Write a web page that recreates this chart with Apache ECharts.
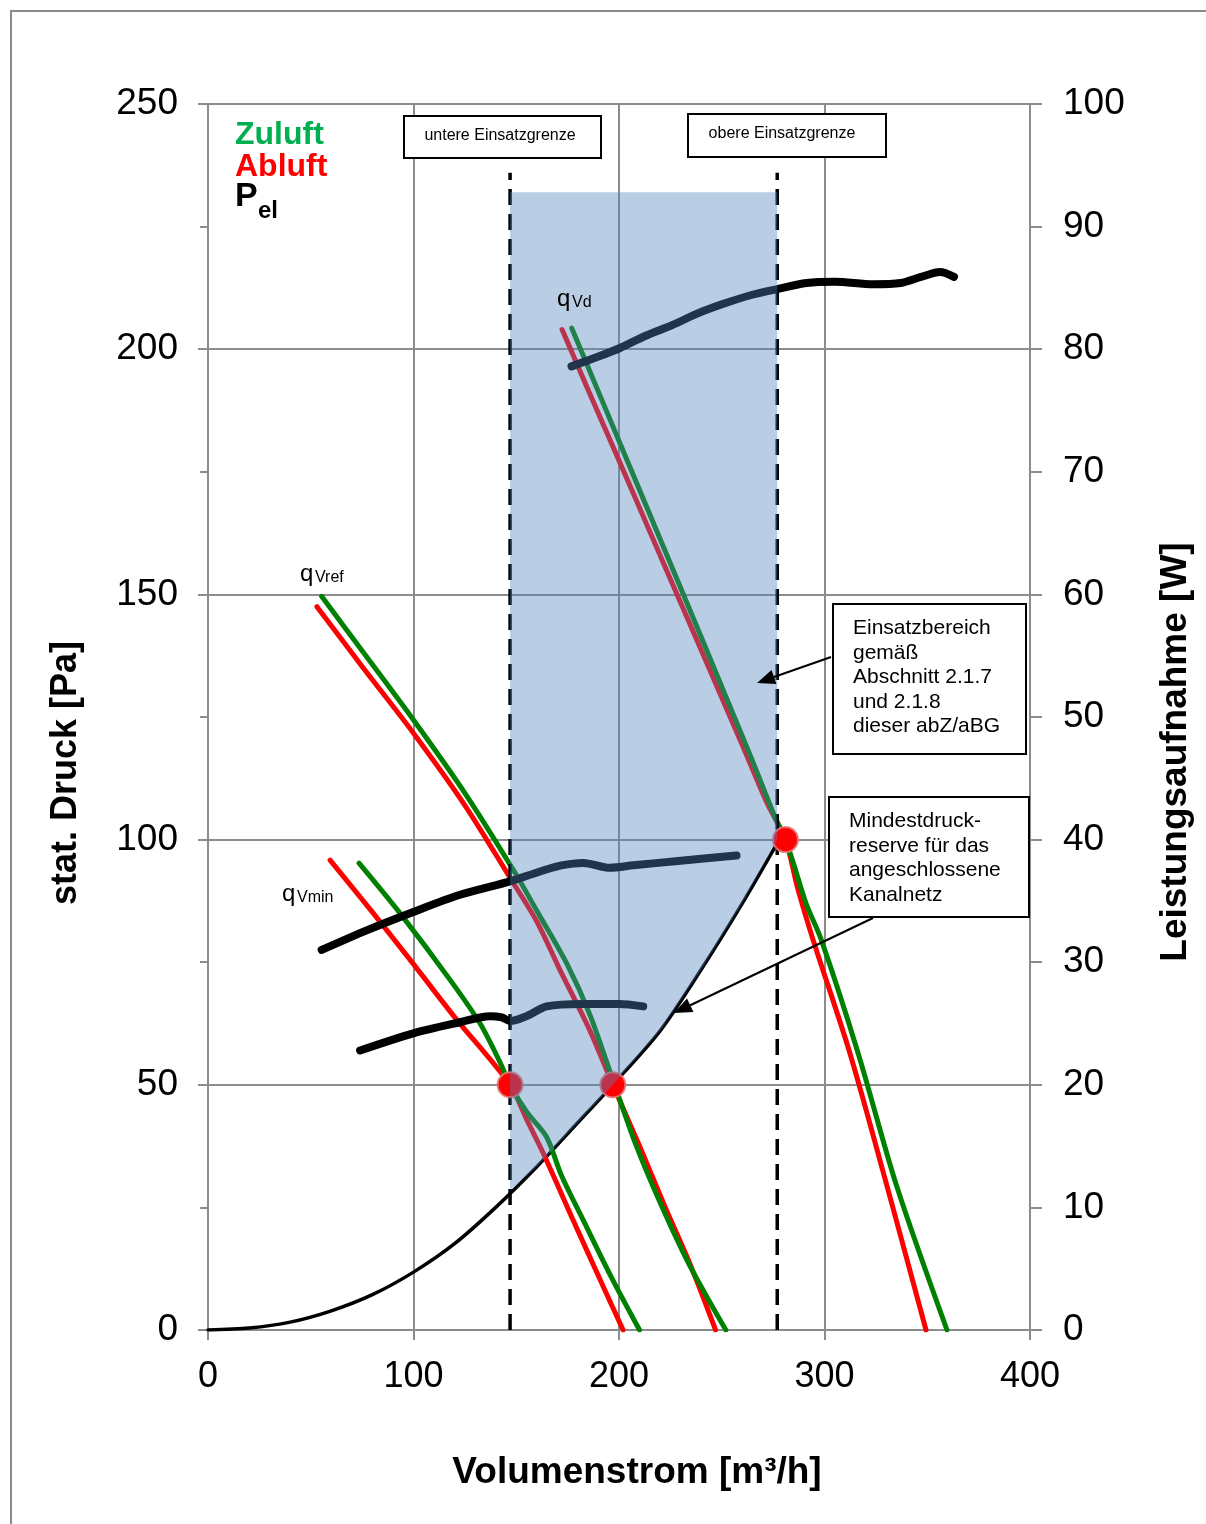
<!DOCTYPE html>
<html>
<head>
<meta charset="utf-8">
<script src="https://cdn.jsdelivr.net/npm/echarts@6/dist/echarts.min.js"></script>
<style>
html,body{margin:0;padding:0;background:#fff;}
#chart{width:1206px;height:1524px;}
</style>
</head>
<body>
<div id="chart"></div>
<script>
// ---------- DATA ----------
// x: Volumenstrom [m³/h], y: stat. Druck [Pa] or Leistungsaufnahme [W]
var xTicks = [0, 100, 200, 300, 400];
var leftTicks = [0, 50, 100, 150, 200, 250];
var rightTicks = [0, 10, 20, 30, 40, 50, 60, 70, 80, 90, 100];

// fan curves (Pa)
var zuluftRef = [[55.3,149.6],[75,138.5],[100,124.4],[125,109.5],[148.6,93.8],[160,85.5],[174.5,74.8],[185.9,64.2],[197,51],[208,38],[220,26],[234,13.5],[252,0]];
var abluftRef = [[53,147.5],[75,135.3],[100,121.7],[125,107],[147,92.2],[160,83.3],[171.3,73.4],[185.9,61],[197,50],[210,37.5],[222,25.5],[235,13],[247,0]];
var zuluftMin = [[73.5,95.2],[93.4,85],[117.8,71.4],[132.4,62.5],[142.1,54.6],[147,50],[155,44.5],[164.7,39.4],[172,31.5],[182.6,22.4],[196,11],[210,0]];
var abluftMin = [[59.4,95.8],[80,85.2],[100,74.6],[120,63.8],[147,50],[155,43],[163.2,36],[177.7,22.4],[190,11],[202,0]];
var zuluftD = [[177,204.3],[190,191.3],[205,176.3],[220,161.3],[235,146.3],[250,131.2],[265,116],[276,104.5],[281,100],[285,95],[291,87],[298.5,79.5],[316.4,56.4],[335,29.5],[359.6,0]];
var abluftD = [[172.3,204],[185,191.7],[200,177.3],[215,162.8],[230,148.3],[245,133.8],[260,119.3],[272,107.5],[281,100],[287,90],[294.5,79.5],[312.4,56.4],[330,30],[349.4,0]];

// power curves P_el (W)
var pelD = [[176.9,78.6],[190,79.4],[200.5,80.1],[213,81.1],[226.4,82.0],[238,82.9],[250.8,83.7],[264,84.4],[277,84.9],[291.3,85.4],[305,85.5],[323.7,85.3],[337,85.4],[347,85.9],[356.2,86.3],[363,85.9]];
var pelRef = [[55.3,31.0],[77.2,32.6],[99.9,34.1],[122.6,35.5],[147,36.6],[161.6,37.4],[172,37.9],[182.6,38.1],[195.6,37.7],[207,37.9],[231.3,38.3],[257.2,38.7]];
var pelMin = [[74,22.8],[99.9,24.2],[122.6,25.1],[137.2,25.6],[143,25.5],[147,25.2],[155,25.6],[164.8,26.4],[182.6,26.6],[200,26.6],[211.8,26.4]];

// system (duct) curve, Pa
var systemCurve = [[0,0],[20,0.4],[40,1.6],[60,3.9],[80,7.2],[100,11.8],[120,17.6],[140,25],[160,33.3],[180,42.3],[197,50],[220,61],[240,73.5],[260,87],[278,100]];

// operating limits
var lowerLimit = 147, upperLimit = 277, limitTop = 236;
var lowerLimitLine = [[lowerLimit,0],[lowerLimit,limitTop]];
var upperLimitLine = [[upperLimit,0],[upperLimit,limitTop]];
// operating area polygon (top edge, then down along the system curve)
var areaPolygon = [[147,232],[277,232],[277,100],[260,87],[240,73.5],[220,61],[197,50],[180,42.3],[160,33.3],[147,28.5]];
// operating points
var points = [[147,50],[197,50],[281,100]];

// ---------- CHART ----------
var chart = echarts.init(document.getElementById('chart'), null, {renderer:'canvas'});
var FONT = 'Liberation Sans, Arial, sans-serif';
var GRAY = '#8c8c8c';

function line(data, color, width, yIdx, z, extra) {
  var s = {
    type:'line', data:data, yAxisIndex:yIdx, xAxisIndex:0, showSymbol:false, symbol:'none',
    smooth:0.3, z:z, silent:true, animation:false,
    lineStyle:{color:color, width:width, cap:'round', join:'round'}
  };
  if (extra) for (var k in extra) s[k] = extra[k];
  return s;
}

function arrow(x1,y1,x2,y2){
  var dx=x2-x1, dy=y2-y1, L=Math.sqrt(dx*dx+dy*dy), ux=dx/L, uy=dy/L;
  var hl=18, hw=7.5;
  var bx=x2-ux*hl, by=y2-uy*hl;
  return [
    {type:'line', shape:{x1:x1,y1:y1,x2:bx,y2:by}, style:{stroke:'#000', lineWidth:2}, z:120, silent:true},
    {type:'polygon', shape:{points:[[x2,y2],[bx-uy*hw,by+ux*hw],[bx+uy*hw,by-ux*hw]]}, style:{fill:'#000'}, z:120, silent:true}
  ];
}

function txt(x, y, s, font, color, align, valign, extra) {
  var o = {type:'text', x:x, y:y, z:110, silent:true,
    style:{text:s, font:font, fill:color || '#000', align:align || 'left', verticalAlign:valign || 'middle'}};
  if (extra) for (var k in extra) o[k] = extra[k];
  return o;
}

var graphics = [
  {type:'rect', shape:{x:11,y:11,width:1210,height:1530}, style:{fill:null, stroke:'#8a8a8a', lineWidth:2}, z:100, silent:true},
  // axis titles
  txt(66, 773, 'stat. Druck [Pa]', 'bold 36px '+FONT, '#000', 'center', 'middle', {rotation:Math.PI/2}),
  txt(1176, 752, 'Leistungsaufnahme [W]', 'bold 37px '+FONT, '#000', 'center', 'middle', {rotation:Math.PI/2}),
  txt(637, 1473, 'Volumenstrom [m³/h]', 'bold 37px '+FONT, '#000', 'center', 'middle'),
  // legend texts
  txt(235, 135, 'Zuluft', 'bold 32px '+FONT, '#00b050'),
  txt(235, 167, 'Abluft', 'bold 32px '+FONT, '#ff0000'),
  txt(235, 197, 'P', 'bold 34px '+FONT, '#000'),
  txt(258, 211, 'el', 'bold 24px '+FONT, '#000'),
  // limit boxes
  {type:'rect', shape:{x:404,y:116,width:197,height:42}, style:{fill:'#fff', stroke:'#000', lineWidth:2}, z:110, silent:true},
  txt(500, 136, 'untere Einsatzgrenze', '16px '+FONT, '#000', 'center'),
  {type:'rect', shape:{x:688,y:114,width:198,height:43}, style:{fill:'#fff', stroke:'#000', lineWidth:2}, z:110, silent:true},
  txt(782, 134, 'obere Einsatzgrenze', '16px '+FONT, '#000', 'center'),
  // annotation boxes
  {type:'rect', shape:{x:833,y:604,width:193,height:150}, style:{fill:'#fff', stroke:'#000', lineWidth:2}, z:110, silent:true},
  {type:'text', x:853, y:616, z:111, silent:true, style:{text:'Einsatzbereich\ngemäß\nAbschnitt 2.1.7\nund 2.1.8\ndieser abZ/aBG', font:'21px '+FONT, lineHeight:24.5, fill:'#000', align:'left', verticalAlign:'top'}},
  {type:'rect', shape:{x:829,y:797,width:200,height:120}, style:{fill:'#fff', stroke:'#000', lineWidth:2}, z:110, silent:true},
  {type:'text', x:849, y:809, z:111, silent:true, style:{text:'Mindestdruck-\nreserve für das\nangeschlossene\nKanalnetz', font:'21px '+FONT, lineHeight:24.5, fill:'#000', align:'left', verticalAlign:'top'}},
  // curve labels
  txt(300, 574, 'q', '24px '+FONT), txt(315, 578, 'Vref', '16px '+FONT),
  txt(282, 894, 'q', '24px '+FONT), txt(297, 898, 'Vmin', '16px '+FONT),
  txt(557, 299, 'q', '24px '+FONT), txt(572, 303, 'Vd', '16px '+FONT)
].concat(arrow(831,657,757,683)).concat(arrow(873,918,674,1013));

var option = {
  animation:false,
  backgroundColor:'#fff',
  textStyle:{fontFamily:FONT},
  grid:{left:208, top:104, width:822, height:1226, containLabel:false},
  xAxis:[{
    type:'value', min:xTicks[0], max:xTicks[xTicks.length-1], interval:100,
    axisLine:{show:true, onZero:false, lineStyle:{color:GRAY, width:2}},
    axisTick:{show:true, length:10, lineStyle:{color:GRAY, width:2}},
    axisLabel:{fontSize:36, color:'#000', margin:29, fontFamily:FONT},
    splitLine:{show:true, lineStyle:{color:GRAY, width:2}}
  }],
  yAxis:[{
    type:'value', position:'left', min:leftTicks[0], max:leftTicks[leftTicks.length-1], interval:50,
    axisLine:{show:true, onZero:false, lineStyle:{color:GRAY, width:2}},
    axisTick:{show:true, length:10, lineStyle:{color:GRAY, width:2}},
    minorTick:{show:true, splitNumber:2, length:8, lineStyle:{color:GRAY, width:2}},
    axisLabel:{fontSize:37, color:'#000', margin:30, fontFamily:FONT, padding:[6,0,0,0]},
    splitLine:{show:true, lineStyle:{color:GRAY, width:2}}
  },{
    type:'value', position:'right', min:rightTicks[0], max:rightTicks[rightTicks.length-1], interval:10,
    axisLine:{show:true, onZero:false, lineStyle:{color:GRAY, width:2}},
    axisTick:{show:true, length:12, lineStyle:{color:GRAY, width:2}},
    axisLabel:{fontSize:37, color:'#000', margin:33, fontFamily:FONT, padding:[6,0,0,0]},
    splitLine:{show:false}
  }],
  graphic:graphics,
  series:[
    line(systemCurve, '#000', 3.5, 0, 3),
    line(abluftRef, '#ff0000', 5, 0, 4),
    line(zuluftRef, '#008000', 5, 0, 4),
    line(abluftMin, '#ff0000', 5, 0, 4),
    line(zuluftMin, '#008000', 5, 0, 4),
    line(abluftD, '#ff0000', 5, 0, 4),
    line(zuluftD, '#008000', 5, 0, 4),
    line(pelD, '#000', 8, 1, 5),
    line(pelRef, '#000', 8, 1, 5),
    line(pelMin, '#000', 8, 1, 5),
    line(lowerLimitLine, '#000', 3.5, 0, 6, {smooth:false, lineStyle:{color:'#000', width:3.5, type:[16,9], cap:'butt'}}),
    line(upperLimitLine, '#000', 3.5, 0, 6, {smooth:false, lineStyle:{color:'#000', width:3.5, type:[16,9], cap:'butt'}}),
    {
      type:'scatter', data:points, yAxisIndex:0, symbolSize:25, z:7, silent:true, animation:false,
      itemStyle:{color:'#ff0000', borderColor:'rgba(230,120,120,0.9)', borderWidth:2, opacity:1}
    },
    {
      type:'custom', z:8, silent:true, animation:false, yAxisIndex:0, xAxisIndex:0,
      data:[[0,0]],
      renderItem:function(params, api){
        var pts = areaPolygon.map(function(p){ return api.coord(p); });
        return {type:'polygon', shape:{points:pts}, style:{fill:'rgba(79,129,189,0.4)', stroke:null}};
      }
    }
  ]
};
chart.setOption(option);
</script>
</body>
</html>
